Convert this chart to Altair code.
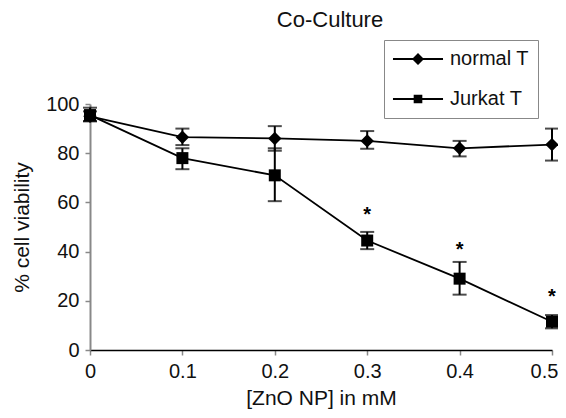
import altair as alt
import pandas as pd

# ---- data ----
conc = [0, 0.1, 0.2, 0.3, 0.4, 0.5]
series_names = ["normal T", "Jurkat T"]
normal_mean = [95, 86.5, 86, 85, 82, 83.5]
normal_lo = [93, 83.3, 81, 81.8, 78.7, 77]
normal_hi = [97, 90, 91, 89, 85, 90]
jurkat_mean = [95.5, 78, 71, 44.5, 29, 11.5]
jurkat_lo = [93, 73.5, 60.5, 41, 22.5, 8.8]
jurkat_hi = [98.5, 82, 82, 48, 35.8, 14.2]
star_conc = [0.3, 0.4, 0.5]
star_y = [57, 42.5, 23.5]
x_ticks = [0, 0.1, 0.2, 0.3, 0.4, 0.5]
y_ticks = [0, 20, 40, 60, 80, 100]

rows = []
for name, m, lo, hi in [
    (series_names[0], normal_mean, normal_lo, normal_hi),
    (series_names[1], jurkat_mean, jurkat_lo, jurkat_hi),
]:
    for c, a, b, d in zip(conc, m, lo, hi):
        rows.append({"conc": c, "series": name, "mean": a, "lo": b, "hi": d})
df = pd.DataFrame(rows)
stars = pd.DataFrame({"conc": star_conc, "y": star_y, "label": ["*"] * len(star_conc)})

FONT = "Liberation Sans"

xs = alt.Scale(domain=[0, 0.5], nice=False, zero=False)
ys = alt.Scale(domain=[0, 100], nice=False)

x_enc = alt.X(
    "conc:Q",
    scale=xs,
    axis=alt.Axis(
        values=x_ticks, format="~g", title="[ZnO NP] in mM", grid=False,
        domainColor="black", domainWidth=1.5, tickColor="#888888", tickWidth=1.5,
        tickSize=5, labelFontSize=20, labelPadding=6, labelFont=FONT,
        labelColor="#111111", titleFont=FONT, titleFontSize=21,
        titleFontWeight="normal", titleColor="#111111", titlePadding=6,
        labelFlush=False,
        labelOffset={"condition": {"test": "datum.value >= 0.5", "value": -8}, "value": 0},
    ),
)
y_enc = alt.Y(
    "mean:Q",
    scale=ys,
    axis=alt.Axis(
        values=y_ticks, title="% cell viability", grid=False,
        domainColor="#888888", domainWidth=2, tickColor="#888888", tickWidth=1.5,
        tickSize=5, labelFontSize=20, labelPadding=6, labelFont=FONT,
        labelColor="#111111", titleFont=FONT, titleFontSize=21,
        titleFontWeight="normal", titleColor="#111111", titlePadding=13,
    ),
)

base = alt.Chart(df)

lines = base.mark_line(color="black", strokeWidth=1.8).encode(
    x=x_enc, y=y_enc, detail="series:N", order="conc:Q"
)
bars = base.mark_rule(color="black", strokeWidth=2).encode(
    x="conc:Q", y="lo:Q", y2="hi:Q"
)
cap_lo = base.mark_tick(color="black", orient="horizontal", size=14, thickness=2).encode(
    x="conc:Q", y="lo:Q"
)
cap_hi = base.mark_tick(color="black", orient="horizontal", size=14, thickness=2).encode(
    x="conc:Q", y="hi:Q"
)
pts_normal = base.transform_filter(alt.datum.series == series_names[0]).mark_point(
    shape="diamond", filled=True, color="black", size=180, opacity=1
).encode(x="conc:Q", y="mean:Q")
pts_jurkat = base.transform_filter(alt.datum.series == series_names[1]).mark_point(
    shape="square", filled=True, color="black", size=144, opacity=1
).encode(x="conc:Q", y="mean:Q")

star_marks = alt.Chart(stars).mark_text(
    text="*", font=FONT, fontSize=20, fontWeight="bold", color="black",
    baseline="alphabetic", dy=11
).encode(x="conc:Q", y="y:Q")

# legend symbols: a thin bar (the line) plus the marker, both filled
diamond_leg = "M-4.17,-0.16L4.17,-0.16L4.17,0.16L-4.17,0.16ZM0,-1L1,0L0,1L-1,0Z"
square_leg = ("M-4.17,-0.16L4.17,-0.16L4.17,0.16L-4.17,0.16Z"
              "M-0.72,-0.72L0.72,-0.72L0.72,0.72L-0.72,0.72Z")

legend_layer = base.transform_filter("false").mark_point(
    filled=True, color="black", size=144, opacity=1
).encode(
    x="conc:Q", y="mean:Q",
    shape=alt.Shape(
        "series:N",
        scale=alt.Scale(domain=series_names, range=[diamond_leg, square_leg]),
        legend=alt.Legend(
            title=None, orient="none", legendX=294, legendY=-64,
            strokeColor="#888888", fillColor="white", padding=9,
            symbolSize=144, symbolFillColor="black", symbolOffset=15,
            labelOffset=22, labelFont=FONT, labelFontSize=20,
            labelColor="#111111", rowPadding=20,
        ),
    ),
)

chart = alt.layer(
    lines, bars, cap_lo, cap_hi, pts_normal, pts_jurkat, star_marks, legend_layer
).properties(
    width=462, height=246,
    title=alt.TitleParams("Co-Culture", font=FONT, fontSize=22, fontWeight="normal",
                          color="#111111", anchor="middle", frame="group", offset=8,
                          dx=9),
    autosize=alt.AutoSizeParams(type="none"),
    padding={"left": 82, "top": 96, "right": 6, "bottom": 60},
).configure_view(stroke=None)

chart.save("out.html", embed_options={"renderer": "svg", "actions": False})
